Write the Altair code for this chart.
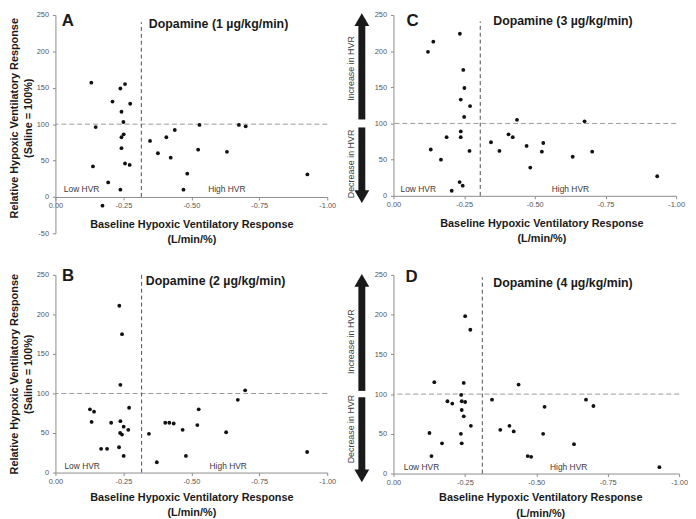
import altair as alt
import pandas as pd

FONT = "Liberation Sans"
AXIS_GREY = "#8c8c8c"

# ---------------- data ----------------
x_ticks = [0, -0.25, -0.5, -0.75, -1.0]

# Panel A: Dopamine 1 ug/kg/min
a_hvr = [-0.132, -0.239, -0.256, -0.210, -0.275, -0.243, -0.250, -0.148, -0.251, -0.243,
         -0.243, -0.256, -0.273, -0.138, -0.194, -0.239, -0.173, -0.348, -0.377, -0.408,
         -0.424, -0.439, -0.485, -0.471, -0.530, -0.525, -0.631, -0.675, -0.700, -0.927]
a_rel = [157, 149, 155, 131, 128, 117, 103, 96, 86, 82,
         67, 46, 44, 42, 20, 10, -12, 77, 60, 82,
         54, 92, 32, 10, 99, 65, 62, 99, 97, 31]

# Panel C: Dopamine 3 ug/kg/min
c_hvr = [-0.122, -0.141, -0.235, -0.247, -0.251, -0.238, -0.271, -0.250, -0.437, -0.676,
         -0.238, -0.238, -0.188, -0.407, -0.422, -0.345, -0.530, -0.471, -0.375, -0.269,
         -0.132, -0.525, -0.703, -0.634, -0.168, -0.484, -0.234, -0.245, -0.206, -0.933]
c_rel = [199, 213, 224, 174, 149, 133, 124, 109, 105, 103,
         89, 81, 81, 85, 81, 74, 73, 69, 62, 62,
         64, 61, 61, 54, 50, 39, 19, 14, 7, 27]

# Panel B: Dopamine 2 ug/kg/min
b_hvr = [-0.235, -0.245, -0.239, -0.698, -0.671, -0.127, -0.142, -0.271, -0.527, -0.133,
         -0.205, -0.239, -0.404, -0.419, -0.435, -0.522, -0.251, -0.268, -0.468, -0.238,
         -0.245, -0.344, -0.628, -0.168, -0.190, -0.234, -0.251, -0.480, -0.373, -0.926]
b_rel = [211, 175, 111, 104, 92, 80, 77, 82, 80, 64,
         63, 65, 63, 63, 62, 60, 58, 54, 54, 50,
         48, 49, 51, 30, 30, 32, 21, 21, 13, 26]

# Panel D: Dopamine 4 ug/kg/min
d_hvr = [-0.251, -0.269, -0.143, -0.246, -0.438, -0.237, -0.345, -0.189, -0.206, -0.239,
         -0.251, -0.674, -0.700, -0.529, -0.239, -0.246, -0.271, -0.406, -0.374, -0.421,
         -0.126, -0.236, -0.524, -0.170, -0.239, -0.632, -0.133, -0.470, -0.482, -0.931]
d_rel = [198, 181, 115, 114, 112, 99, 93, 91, 88, 91,
         90, 93, 85, 84, 80, 72, 60, 60, 55, 53,
         51, 50, 50, 38, 38, 37, 22, 22, 21, 8]

titles = ["Dopamine (1 µg/kg/min)", "Dopamine (3 µg/kg/min)",
          "Dopamine (2 µg/kg/min)", "Dopamine (4 µg/kg/min)"]
letters = ["A", "C", "B", "D"]
hvr_labels = ["Low HVR", "High HVR"]
arrow_labels = ["Increase in HVR", "Decrease in HVR"]
x_title = ["Baseline Hypoxic Ventilatory Response", "(L/min/%)"]
y_title = ["Relative Hypoxic Ventilatory Response", "(Saline = 100%)"]

X_LABEL = "datum.value == 0 ? '0.00' : '-' + format(-datum.value, '.2f')"
Y_LABEL = "datum.value < 0 ? '-' + format(-datum.value, 'd') : format(datum.value, 'd')"


def panel(hvr, rel, title, letter, cfg):
    w, h, ymin = cfg["w"], cfg["h"], cfg["ymin"]
    xscale = alt.Scale(domain=[0, -1], nice=False, zero=False)
    yscale = alt.Scale(domain=[ymin, 250], nice=False, zero=False)

    xaxis = alt.Axis(
        values=x_ticks, labelExpr=X_LABEL, grid=False,
        domainColor=AXIS_GREY, tickColor=AXIS_GREY, tickSize=3,
        labelFont=FONT, labelFontSize=7.5, labelColor="#555555", labelPadding=2,
        labelFlush=False, labelOverlap=False,
        title=x_title, titleFont=FONT, titleFontSize=11, titleFontWeight="bold",
        titleColor="#1a1a1a", titlePadding=cfg["xtp"], titleLineHeight=cfg["xlh"],
        titleX=w / 2 + cfg["xtdx"], offset=cfg["xoff"],
    )
    yvals = list(range(ymin, 251, 50))
    ykw = dict(
        values=yvals, labelExpr=Y_LABEL, grid=False,
        domainColor=AXIS_GREY, tickColor=AXIS_GREY, tickSize=3,
        labelFont=FONT, labelFontSize=7.5, labelColor="#555555", labelPadding=4,
        labelFlush=False, labelOverlap=False,
    )
    if cfg["ytitle"]:
        yaxis = alt.Axis(
            title=y_title, titleFont=FONT, titleFontSize=11, titleFontWeight="bold",
            titleColor="#1a1a1a", titleAngle=270, titleBaseline="bottom",
            titleAlign="center", titleLineHeight=14, titleX=-36, titleY=cfg["yty"],
            **ykw)
    else:
        yaxis = alt.Axis(title=None, **ykw)

    def X(f="x"):
        return alt.X(f"{f}:Q", scale=xscale, axis=xaxis)

    def Y(f="y"):
        return alt.Y(f"{f}:Q", scale=yscale, axis=yaxis)

    layers = []
    layers.append(alt.Chart(pd.DataFrame({"y": [100]})).mark_rule(
        color="#9a9a9a", strokeDash=[5, 3], strokeWidth=1).encode(y=Y()))
    layers.append(alt.Chart(pd.DataFrame({"x": [cfg["vx"]], "y": [0], "y2": [cfg["vtop"]]}))
                  .mark_rule(color="#4d4d4d", strokeDash=[4, 3], strokeWidth=1)
                  .encode(x=X(), y=Y(), y2="y2:Q"))
    layers.append(alt.Chart(pd.DataFrame({"x": hvr, "y": rel})).mark_circle(
        size=15, color="#111111", opacity=1).encode(x=X(), y=Y()))
    layers.append(alt.Chart(pd.DataFrame({"x": [cfg["lowx"], cfg["highx"]],
                                          "y": [cfg["hvry"], cfg["hvry"]],
                                          "t": hvr_labels}))
                  .mark_text(align="left", baseline="middle", font=FONT, fontSize=8.5,
                             color="#3a3a3a")
                  .encode(x=X(), y=Y(), text="t:N"))
    layers.append(alt.Chart(pd.DataFrame({"t": [title]})).mark_text(
        font=FONT, fontSize=12.5, fontWeight="bold", color="#1a1a1a",
        align="center", baseline="middle").encode(
        x=alt.value(cfg["tx"]), y=alt.value(cfg["ty"]), text="t:N"))
    layers.append(alt.Chart(pd.DataFrame({"t": [letter]})).mark_text(
        font=FONT, fontSize=17, fontWeight="bold", color="#1a1a1a",
        align="center", baseline="middle").encode(
        x=alt.value(cfg["lx"]), y=alt.value(cfg["ly"]), text="t:N"))

    if "arrows" in cfg:
        ar = cfg["arrows"]
        ax = -32
        layers.append(alt.Chart(pd.DataFrame({"y": [ar["up"][0], ar["down"][0]],
                                              "y2": [ar["up"][1], ar["down"][1]]}))
                      .mark_rule(strokeWidth=7, color="#1a1a1a")
                      .encode(x=alt.value(ax), y=Y(), y2="y2:Q"))
        layers.append(alt.Chart(pd.DataFrame({"y": [ar["up"][1]]})).mark_point(
            shape="triangle-up", size=225, filled=True, color="#1a1a1a", opacity=1,
            strokeWidth=0)
            .encode(x=alt.value(ax), y=Y()))
        layers.append(alt.Chart(pd.DataFrame({"y": [ar["down"][1]]})).mark_point(
            shape="triangle-down", size=225, filled=True, color="#1a1a1a", opacity=1,
            strokeWidth=0)
            .encode(x=alt.value(ax), y=Y()))
        layers.append(alt.Chart(pd.DataFrame({"y": ar["text_y"], "t": arrow_labels}))
                      .mark_text(angle=270, font=FONT, fontSize=9, color="#404040",
                                 align="center", baseline="middle")
                      .encode(x=alt.value(-43), y=Y(), text="t:N"))

    return alt.layer(*layers).properties(width=w, height=h)


cfgA = dict(w=275, h=221, ymin=-50, xoff=-221 / 6, xtp=9, xlh=16, xtdx=0,
            ytitle=True, yty=104, vx=-0.316, vtop=240, lowx=-0.031, highx=-0.562,
            hvry=11, tx=165, ty=9.5, lx=12.5, ly=6.5)
cfgC = dict(w=286, h=183, ymin=0, xoff=0, xtp=9.5, xlh=15.5, xtdx=6.7,
            ytitle=False, vx=-0.307, vtop=241, lowx=-0.025, highx=-0.56,
            hvry=10, tx=171.5, ty=6.5, lx=19.3, ly=6.5,
            arrows=dict(up=(105.5, 243.5), down=(94.5, -1.1), text_y=[176, 44]))
cfgB = dict(w=275, h=200, ymin=0, xoff=0, xtp=7, xlh=14.5, xtdx=0,
            ytitle=True, yty=100, vx=-0.317, vtop=252, lowx=-0.033, highx=-0.567,
            hvry=8, tx=162, ty=6.7, lx=12.8, ly=1.5)
cfgD = dict(w=289, h=201, ymin=0, xoff=0, xtp=6, xlh=16, xtdx=4,
            ytitle=False, vx=-0.311, vtop=247, lowx=-0.036, highx=-0.548,
            hvry=8.7, tx=171.5, ty=8.5, lx=18.3, ly=2.5,
            arrows=dict(up=(104, 243), down=(96, -2.9), text_y=[166, 56]))

pA = panel(a_hvr, a_rel, titles[0], letters[0], cfgA)
pC = panel(c_hvr, c_rel, titles[1], letters[1], cfgC)
pB = panel(b_hvr, b_rel, titles[2], letters[2], cfgB)
pD = panel(d_hvr, d_rel, titles[3], letters[3], cfgD)

chart = (alt.concat(pA, pC, pB, pD, columns=2, bounds="flush",
                    spacing={"row": 42, "column": 67})
         .properties(padding={"left": 0, "top": 0, "right": 0, "bottom": 0},
                     background="white")
         .configure_view(strokeWidth=0))

chart.save("out.html", embed_options={"renderer": "svg", "actions": False})
